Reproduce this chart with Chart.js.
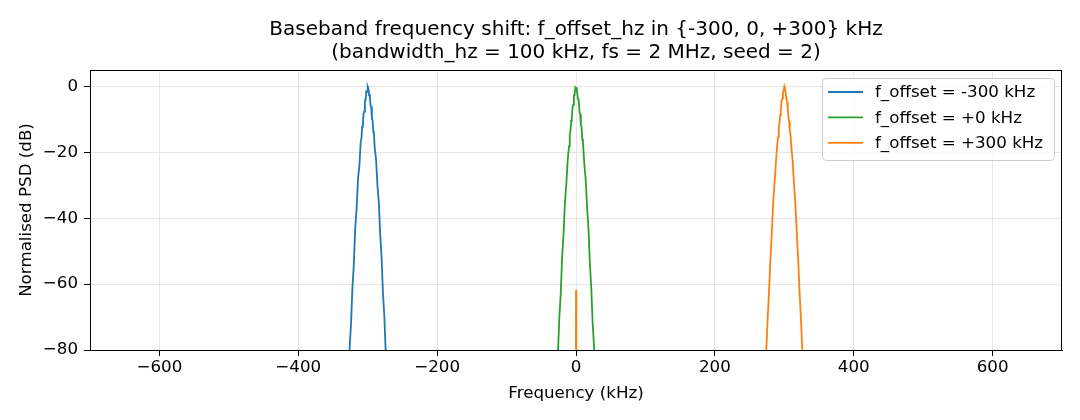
<!DOCTYPE html>
<html>
    <head>
        <meta charset="utf-8">
        <title>Baseband frequency shift</title>
        <script src="https://cdn.jsdelivr.net/npm/chart.js@4.4.1/dist/chart.umd.min.js"></script>
        <style>
            html, body {
                margin: 0;
                padding: 0;
                background: #fff;
            }
            #container {
                width: 1080px;
                height: 420px;
            }
        </style>
    </head>
    <body>
        <div id="container">
            <canvas id="vis" width="1080" height="420"></canvas>
        </div>
        <script>
            // frequency offset relative to each carrier (kHz)
            const relFreq = [-32, -30, -28, -26, -24, -22, -20, -18, -16, -14, -12, -10, -9, -8, -7, -6, -5, -4, -3, -2, -1,
                0, 1, 2, 3, 4, 5, 6, 7, 8, 9, 10, 12, 14, 16, 18, 20, 22, 24, 26, 28, 30, 32];

            const offsets = [-300, 0, 300];
            const labels = ['f_offset = -300 kHz', 'f_offset = +0 kHz', 'f_offset = +300 kHz'];
            const colors = ['#1f77b4', '#2ca02c', '#ff7f0e'];

            // normalised PSD (dB), one array per offset
            const psdMinus300 = [-112, -99, -91, -79, -72, -61, -54, -43, -37, -28, -24, -16.5, -15.8, -12.2, -11.8, -8.2, -7.6, -4.3, -4.1, -1.5, -1.6,
                0, -0.6, -2.8, -2.4, -5.8, -6.1, -9.8, -10.2, -13.7, -14.3, -18.4, -22.1, -30, -35.2, -45, -52, -63, -70, -81, -89, -101, -110];
            const psdZero = [-110, -101, -89, -81, -70, -63, -52, -45, -35.5, -29.8, -22.4, -18.1, -14.6, -13.6, -10.4, -9.5, -6.4, -5.6, -2.7, -2.6, -0.4,
                -0.8, -0.2, -2.4, -3.9, -4.2, -7.8, -8.4, -11.6, -12.4, -15.9, -16.8, -23.6, -28.4, -36.8, -43.2, -53.8, -61.2, -71.8, -79.2, -90.5, -99.5, -111];
            const psdPlus300 = [-111, -100, -90.5, -80.5, -70.5, -62.5, -52.5, -44.5, -35.4, -29.2, -22.8, -17.2, -15.4, -12.6, -11.3, -8.7, -7.2, -4.6, -3.6, -1.7, -1.2,
                -0.1, -1.0, -1.8, -3.8, -4.7, -6.8, -9.3, -10.7, -13.4, -14.8, -17.9, -22.6, -29.6, -35.8, -44.4, -52.6, -62.4, -70.6, -80.4, -90.2, -100.4, -110.6];
            const psdSeries = [psdMinus300, psdZero, psdPlus300];

            // residual DC spike in the +300 kHz trace
            const spikeFreq = [-0.5, 0, 0.5];
            const spikePsd = [-160, -61.8, -160];

            const xTicks = [-600, -400, -200, 0, 200, 400, 600];
            const yTicks = [-80, -60, -40, -20, 0];

            const fmt = v => String(v).replace('-', '\u2212');
            const labelFont = {family: 'DejaVu Sans', size: 16.7};

            const datasets = offsets.map((off, i) => {
                let pts = relFreq.map((f, j) => ({x: off + f, y: psdSeries[i][j]}));
                if (i === 2) {
                    pts = spikeFreq.map((f, j) => ({x: f, y: spikePsd[j]})).concat(pts);
                }
                return {
                    label: labels[i],
                    data: pts,
                    borderColor: colors[i],
                    backgroundColor: colors[i],
                    borderWidth: 1.8,
                    pointRadius: 0,
                    tension: 0,
                    fill: false
                };
            });

            const frameAndLegend = {
                id: 'frameAndLegend',
                afterDatasetsDraw(chart) {
                    const {ctx, chartArea: a} = chart;
                    ctx.save();
                    ctx.strokeStyle = '#000';
                    ctx.lineWidth = 1;
                    ctx.strokeRect(a.left + 0.5, a.top + 0.5, a.right - a.left - 1, a.bottom - a.top);

                    // legend box, upper right
                    const bx = 822, by = 78, bw = 232, bh = 82, r = 4;
                    ctx.beginPath();
                    ctx.roundRect(bx + 0.5, by + 0.5, bw, bh, r);
                    ctx.fillStyle = 'rgba(255,255,255,0.8)';
                    ctx.fill();
                    ctx.strokeStyle = '#cccccc';
                    ctx.stroke();
                    ctx.font = '16.7px "DejaVu Sans"';
                    ctx.textBaseline = 'middle';
                    labels.forEach((lab, i) => {
                        const y = 92 + i * 25.4;
                        ctx.strokeStyle = colors[i];
                        ctx.lineWidth = 1.8;
                        ctx.beginPath();
                        ctx.moveTo(828, y);
                        ctx.lineTo(863, y);
                        ctx.stroke();
                        ctx.fillStyle = '#000';
                        ctx.fillText(lab, 875, y + 1);
                    });
                    ctx.restore();
                }
            };

            new Chart(document.getElementById('vis'), {
                type: 'line',
                data: {datasets},
                options: {
                    responsive: false,
                    animation: false,
                    layout: {padding: {left: 0, right: 18, top: 0, bottom: 0}},
                    plugins: {
                        legend: {display: false},
                        tooltip: {enabled: false},
                        title: {
                            display: true,
                            fullSize: false,
                            text: ['Baseband frequency shift: f_offset_hz in {-300, 0, +300} kHz',
                                '(bandwidth_hz = 100 kHz, fs = 2 MHz, seed = 2)'],
                            color: '#000',
                            font: {family: 'DejaVu Sans', size: 20, weight: 'normal', lineHeight: 1.15},
                            padding: {top: 18, bottom: 6}
                        }
                    },
                    scales: {
                        x: {
                            type: 'linear',
                            min: -700,
                            max: 700,
                            afterFit: s => { s.height = 70; },
                            afterBuildTicks: s => { s.ticks = xTicks.map(v => ({value: v})); },
                            ticks: {
                                color: '#000',
                                font: labelFont,
                                padding: 2,
                                maxRotation: 0,
                                callback: v => fmt(v)
                            },
                            grid: {color: '#e6e6e6', tickColor: '#000', tickLength: 6, lineWidth: 1},
                            border: {color: '#000', width: 1},
                            title: {
                                display: true,
                                text: 'Frequency (kHz)',
                                color: '#000',
                                font: labelFont,
                                padding: {top: 0, bottom: 16}
                            }
                        },
                        y: {
                            type: 'linear',
                            min: -80,
                            max: 5,
                            afterFit: s => { s.width = 90; },
                            afterBuildTicks: s => { s.ticks = yTicks.map(v => ({value: v})); },
                            ticks: {
                                color: '#000',
                                font: labelFont,
                                padding: 6,
                                callback: v => fmt(v)
                            },
                            grid: {color: '#e6e6e6', tickColor: '#000', tickLength: 6, lineWidth: 1},
                            border: {color: '#000', width: 1},
                            title: {
                                display: true,
                                text: 'Normalised PSD (dB)',
                                color: '#000',
                                font: labelFont,
                                padding: {top: 17, bottom: 0}
                            }
                        }
                    }
                },
                plugins: [frameAndLegend]
            });
        </script>
    </body>
</html>
